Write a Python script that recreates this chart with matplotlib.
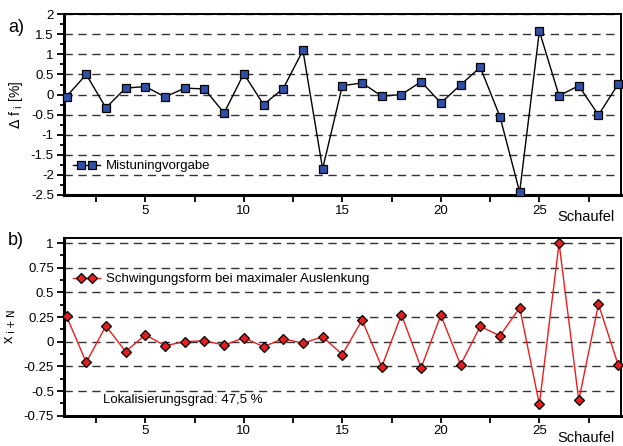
import numpy as np
import matplotlib
matplotlib.use("Agg")
import matplotlib.pyplot as plt
from matplotlib.ticker import MultipleLocator
from matplotlib.legend_handler import HandlerLine2D
from matplotlib.lines import Line2D

plt.rcParams['font.family'] = ['Liberation Sans', 'DejaVu Sans']

schaufel = np.arange(1, 30)

# a) Mistuning (Delta f_i in %)
delta_f = [-0.05, 0.50, -0.33, 0.16, 0.20, -0.06, 0.16, 0.14, -0.46, 0.52,
           -0.25, 0.15, 1.10, -1.85, 0.22, 0.29, -0.04, 0.00, 0.32, -0.21,
           0.24, 0.68, -0.55, -2.43, 1.58, -0.03, 0.22, -0.51, 0.26]

# b) Schwingungsform
x_form = [0.26, -0.21, 0.16, -0.10, 0.07, -0.04, 0.00, 0.01, -0.035, 0.04,
          -0.05, 0.03, -0.015, 0.05, -0.13, 0.22, -0.255, 0.275, -0.265, 0.27,
          -0.235, 0.155, 0.06, 0.345, -0.635, 1.00, -0.595, 0.38, -0.235]

yticks_a = [2, 1.5, 1, 0.5, 0, -0.5, -1, -1.5, -2, -2.5]
yticks_b = [1, 0.75, 0.5, 0.25, 0, -0.25, -0.5, -0.75]
xticks = [5, 10, 15, 20, 25]


# legend: full line, two markers close together in the middle
class StubHandler(HandlerLine2D):
    def create_artists(self, legend, orig_handle, xdescent, ydescent,
                       width, height, fontsize, trans):
        pad = self._marker_pad * fontsize
        x0, x1 = -xdescent, -xdescent + width
        xdata = np.array([x0, x0 + pad, x1 - pad, x1])
        ydata = np.full_like(xdata, (height - ydescent) / 2)
        legline = Line2D(xdata, ydata)
        self.update_prop(legline, orig_handle, legend)
        legline.set_markevery([1, 2])
        legline.set_transform(trans)
        return [legline]


hmap = {Line2D: StubHandler(marker_pad=0.6)}

fig = plt.figure(figsize=(6.23, 4.46), dpi=100)
ax1 = fig.add_axes([0.102, 0.563, 0.895, 0.405])
ax2 = fig.add_axes([0.102, 0.068, 0.895, 0.398])


def style(ax, yticks):
    ax.set_xlim(0.85, 29.15)
    ax.set_xticks(xticks)
    ax.xaxis.set_minor_locator(MultipleLocator(2.5))
    ax.set_yticks(yticks)
    ax.set_yticklabels([('%g' % v) for v in yticks])
    step = abs(yticks[0] - yticks[1])
    ax.yaxis.set_minor_locator(MultipleLocator(step / 2))
    ax.tick_params(which='both', direction='out', labelsize=9.5, width=1.3)
    ax.tick_params(which='major', length=5, pad=2)
    ax.tick_params(which='minor', length=3)
    ax.tick_params(axis='x', which='minor', length=5)
    for s in ax.spines.values():
        s.set_linewidth(1.4)
    ax.spines['left'].set_linewidth(2.2)
    ax.spines['bottom'].set_linewidth(2.2)
    for v in yticks:
        ax.axhline(v, color='#333333', lw=1.0, ls=(0, (6, 4)), zorder=0)


style(ax1, yticks_a)
ax1.set_ylim(-2.5, 2)
ax1.plot(schaufel, delta_f, color='black', lw=1, marker='s', ms=5.3,
         mfc='#3050a8', mec='black', mew=0.9, label='Mistuningvorgabe',
         clip_on=False, zorder=3)
ax1.legend(loc='lower left', bbox_to_anchor=(-0.005, 0.06), frameon=False,
           handler_map=hmap, fontsize=9.5, handlelength=2.1,
           handletextpad=0.4)
ax1.set_ylabel(r'$\Delta$ f$_{\rm\ i}$ [%]', fontsize=10, labelpad=4)
fig.text(0.987, 0.513, 'Schaufel', ha='right', va='center', fontsize=10.5)
fig.text(0.013, 0.938, 'a)', ha='left', va='center', fontsize=13)

style(ax2, yticks_b)
ax2.set_ylim(-0.75, 1.05)
ax2.plot(schaufel, x_form, color='#ee1c1c', lw=1, marker='D', ms=4.8,
         mfc='#e02020', mec='black', mew=0.9,
         label='Schwingungsform bei maximaler Auslenkung',
         clip_on=False, zorder=3)
ax2.legend(loc='upper left', bbox_to_anchor=(-0.005, 0.87), frameon=False,
           handler_map=hmap, fontsize=9.5, handlelength=2.1,
           handletextpad=0.4)
ax2.set_ylabel(r'x$_{\rm\ i+N}$', fontsize=10.5, labelpad=4)
ax2.text(0.07, 0.055, 'Lokalisierungsgrad: 47,5 %', transform=ax2.transAxes,
         fontsize=9.5, ha='left', va='bottom')
fig.text(0.987, 0.018, 'Schaufel', ha='right', va='center', fontsize=10.5)
fig.text(0.013, 0.46, 'b)', ha='left', va='center', fontsize=13)

fig.savefig('out.png', dpi=100)
